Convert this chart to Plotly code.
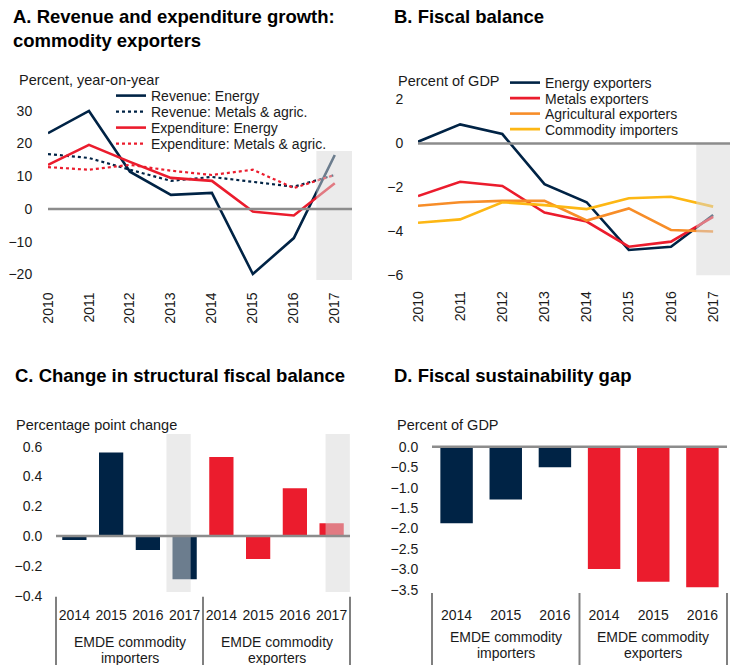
import plotly.graph_objects as go

FONT = "Liberation Sans, Arial, sans-serif"
NAVY = "#002345"
RED = "#EB1C2D"
ORANGE = "#F78D28"
YELLOW = "#FDB714"
AXIS_GRAY = "#8C8C8C"
DIVIDER = "#808080"
TEXT = "#1a1a1a"
W, H = 736, 665

# ---- Panel A: revenue and expenditure growth, commodity exporters ----
years = ["2010", "2011", "2012", "2013", "2014", "2015", "2016", "2017"]
rev_energy = [23.2, 30.0, 11.4, 4.3, 4.9, -19.9, -8.9, 16.5]
rev_metals_agric = [16.8, 15.6, 12.0, 8.6, 9.8, 8.3, 6.8, 10.4]
exp_energy = [13.5, 19.6, 14.4, 9.5, 8.6, -0.8, -2.0, 7.9]
exp_metals_agric = [12.8, 12.0, 13.5, 11.7, 10.4, 12.0, 6.4, 10.4]

# ---- Panel B: fiscal balance ----
bal_energy = [0.08, 0.87, 0.43, -1.85, -2.67, -4.84, -4.69, -3.25]
bal_metals = [-2.39, -1.74, -1.93, -3.14, -3.55, -4.69, -4.46, -3.33]
bal_agri = [-2.83, -2.67, -2.61, -2.61, -3.50, -2.95, -3.93, -4.00]
bal_importers = [-3.60, -3.45, -2.67, -2.80, -2.98, -2.49, -2.42, -2.87]

# ---- Panel C: change in structural fiscal balance ----
struct_years = ["2014", "2015", "2016", "2017"]
struct_importers = [-0.027, 0.56, -0.094, -0.29]
struct_exporters = [0.53, -0.155, 0.32, 0.085]

# ---- Panel D: fiscal sustainability gap ----
gap_years = ["2014", "2015", "2016"]
gap_importers = [-1.87, -1.29, -0.50]
gap_exporters = [-2.99, -3.30, -3.43]

group_names = ["EMDE commodity importers", "EMDE commodity exporters"]
group_lines = [["EMDE commodity", "importers"], ["EMDE commodity", "exporters"]]


def fx(px):
    return px / W


def fy(px):
    return 1 - px / H


def keyed(group, yrs):
    """Unique category keys for one country group."""
    return [f"{group} {y}" for y in yrs]


fig = go.Figure()

# panel A lines
a_series = [
    ("Revenue: Energy", rev_energy, NAVY, "solid", 2.6),
    ("Revenue: Metals & agric.", rev_metals_agric, NAVY, "dot", 2.2),
    ("Expenditure: Energy", exp_energy, RED, "solid", 2.6),
    ("Expenditure: Metals & agric.", exp_metals_agric, RED, "dot", 2.2),
]
legend_rows_a = [95, 111, 127, 143]
for i, (name, vals, col, dash, w) in enumerate(a_series):
    lg = "legend" if i == 0 else f"legend{i + 1}"
    fig.add_trace(go.Scatter(x=years, y=vals, name=name, mode="lines",
                             line=dict(color=col, dash=dash, width=w),
                             xaxis="x", yaxis="y", legend=lg))

# panel B lines
b_series = [
    ("Energy exporters", bal_energy, NAVY),
    ("Metals exporters", bal_metals, RED),
    ("Agricultural exporters", bal_agri, ORANGE),
    ("Commodity importers", bal_importers, YELLOW),
]
legend_rows_b = [82, 97.5, 113, 128.5]
for i, (name, vals, col) in enumerate(b_series):
    fig.add_trace(go.Scatter(x=years, y=vals, name=name, mode="lines",
                             line=dict(color=col, width=2.6),
                             xaxis="x2", yaxis="y2", legend=f"legend{i + 5}"))

# panel C bars
cats_c = keyed(group_names[0], struct_years) + keyed(group_names[1], struct_years)
fig.add_trace(go.Bar(x=keyed(group_names[0], struct_years), y=struct_importers,
                     marker=dict(color=NAVY, line=dict(width=0)),
                     xaxis="x3", yaxis="y3", showlegend=False,
                     name=group_names[0]))
fig.add_trace(go.Bar(x=keyed(group_names[1], struct_years), y=struct_exporters,
                     marker=dict(color=RED, line=dict(width=0)),
                     xaxis="x3", yaxis="y3", showlegend=False,
                     name=group_names[1]))

# panel D bars
cats_d = keyed(group_names[0], gap_years) + keyed(group_names[1], gap_years)
fig.add_trace(go.Bar(x=keyed(group_names[0], gap_years), y=gap_importers,
                     marker=dict(color=NAVY, line=dict(width=0)),
                     xaxis="x4", yaxis="y4", showlegend=False,
                     name=group_names[0]))
fig.add_trace(go.Bar(x=keyed(group_names[1], gap_years), y=gap_exporters,
                     marker=dict(color=RED, line=dict(width=0)),
                     xaxis="x4", yaxis="y4", showlegend=False,
                     name=group_names[1]))

tickfont = dict(family=FONT, size=14, color=TEXT)
hidden_tick = dict(ticks="outside", tickcolor="rgba(0,0,0,0)",
                   showgrid=False, showline=False, zeroline=False,
                   automargin=False, tickfont=tickfont)

BARGAP = 0.34

layout = dict(
    width=W, height=H,
    margin=dict(l=0, r=0, t=0, b=0, autoexpand=False),
    paper_bgcolor="white", plot_bgcolor="white",
    font=dict(family=FONT, size=14, color=TEXT),
    barmode="group", bargap=BARGAP, bargroupgap=0,
    xaxis=dict(domain=[fx(48), fx(352)], anchor="y", type="category",
               tickangle=-90, ticklen=5, **hidden_tick),
    yaxis=dict(domain=[fy(280.9), fy(94.55)], anchor="x", range=[-22, 35],
               tickvals=[-20, -10, 0, 10, 20, 30], ticklen=12, **hidden_tick),
    xaxis2=dict(domain=[fx(418), fx(730)], anchor="y2", type="category",
                tickangle=-90, ticklen=9, **hidden_tick),
    yaxis2=dict(domain=[fy(275.5), fy(95.1)], anchor="x2", range=[-6, 2.2],
                tickvals=[-6, -4, -2, 0, 2], ticklen=11, **hidden_tick),
    xaxis3=dict(domain=[fx(56), fx(350)], anchor="y3", type="category",
                categoryorder="array", categoryarray=cats_c,
                tickvals=cats_c, ticktext=struct_years * 2,
                tickangle=0, ticklen=7, **hidden_tick),
    yaxis3=dict(domain=[fy(595.6), fy(431.7)], anchor="x3", range=[-0.4, 0.7],
                tickvals=[-0.4, -0.2, 0, 0.2, 0.4, 0.6], tickformat=".1f",
                ticklen=10, **hidden_tick),
    xaxis4=dict(domain=[fx(432), fx(727)], anchor="y4", type="category",
                categoryorder="array", categoryarray=cats_d,
                tickvals=cats_d, ticktext=gap_years * 2,
                tickangle=0, ticklen=12, **hidden_tick),
    yaxis4=dict(domain=[fy(590), fy(444.2)], anchor="x4", range=[-3.5, 0.06],
                tickvals=[-3.5, -3, -2.5, -2, -1.5, -1, -0.5, 0],
                tickformat=".1f", ticklen=10, **hidden_tick),
)

# one legend box per series so the rows sit tightly together
legend_font = dict(family=FONT, size=14, color=TEXT)
for i, row in enumerate(legend_rows_a):
    key = "legend" if i == 0 else f"legend{i + 1}"
    layout[key] = dict(x=fx(152 - 41), y=fy(row + 1), xanchor="left",
                       yanchor="middle", bgcolor="rgba(0,0,0,0)",
                       borderwidth=0, font=legend_font, itemwidth=30)
for i, row in enumerate(legend_rows_b):
    layout[f"legend{i + 5}"] = dict(x=fx(545 - 40), y=fy(row + 1),
                                    xanchor="left", yanchor="middle",
                                    bgcolor="rgba(0,0,0,0)", borderwidth=0,
                                    font=legend_font, itemwidth=30)

fig.update_layout(**layout)

# shaded forecast columns (drawn over the data, semi-transparent)
SHADE = dict(type="rect", layer="above", fillcolor="rgb(215,215,215)",
             opacity=0.5, line=dict(width=0))
fig.add_shape(**SHADE, xref="x", yref="y", x0=6.55, x1=7.42, y0=-21.7, y1=17.7)
fig.add_shape(**SHADE, xref="x2", yref="y2", x0=6.60, x1=7.40, y0=-6, y1=0)

half = (1 - BARGAP) / 2  # width of one bar in category units
n_c = len(cats_c)
for center, side in [(3, -1), (7, 1)]:
    bar_mid = center + side * half / 2
    x0 = (bar_mid - half + 0.5) / n_c
    x1 = (bar_mid + half + 0.5) / n_c
    fig.add_shape(**SHADE, xref="x3 domain", yref="y3", x0=x0, x1=x1,
                  y0=-0.375, y1=0.685)

# zero lines on top
for xr, yr in [("x", "y"), ("x2", "y2"), ("x3", "y3"), ("x4", "y4")]:
    fig.add_shape(type="line", layer="above", xref=f"{xr} domain", yref=yr,
                  x0=0, x1=1, y0=0, y1=0,
                  line=dict(color=AXIS_GRAY, width=2.5))

# group dividers and group labels under the bar panels
for xr, top, line1_y in [("x3", 596.7, 642), ("x4", 593, 637)]:
    for pos in (0, 0.5, 1):
        fig.add_shape(type="line", xref=f"{xr} domain", yref="paper",
                      x0=pos, x1=pos, y0=fy(top), y1=0,
                      line=dict(color=DIVIDER, width=2))
    for gi, lines in enumerate(group_lines):
        for li, txt in enumerate(lines):
            fig.add_annotation(x=0.25 + 0.5 * gi, y=fy(line1_y + 16 * li),
                               xref=f"{xr} domain", yref="paper",
                               xanchor="center", yanchor="middle",
                               showarrow=False, text=txt,
                               font=dict(family=FONT, size=14, color=TEXT))

# panel titles and unit labels
titles = [
    (11, 16, "A. Revenue and expenditure growth:"),
    (11, 40, "commodity exporters"),
    (392, 16, "B. Fiscal balance"),
    (13, 375, "C. Change in structural fiscal balance"),
    (392, 375, "D. Fiscal sustainability gap"),
]
for x, y, t in titles:
    fig.add_annotation(x=fx(x), y=fy(y), xref="paper", yref="paper",
                       xanchor="left", yanchor="middle", showarrow=False,
                       text=f"<b>{t}</b>",
                       font=dict(family=FONT, size=18.5, color="#000"))
units = [
    (17, 80, "Percent, year-on-year"),
    (396, 81, "Percent of GDP"),
    (14, 425, "Percentage point change"),
    (395, 425, "Percent of GDP"),
]
for x, y, t in units:
    fig.add_annotation(x=fx(x), y=fy(y), xref="paper", yref="paper",
                       xanchor="left", yanchor="middle", showarrow=False,
                       text=t, font=dict(family=FONT, size=14.5, color=TEXT))

fig.write_html("out.html")
